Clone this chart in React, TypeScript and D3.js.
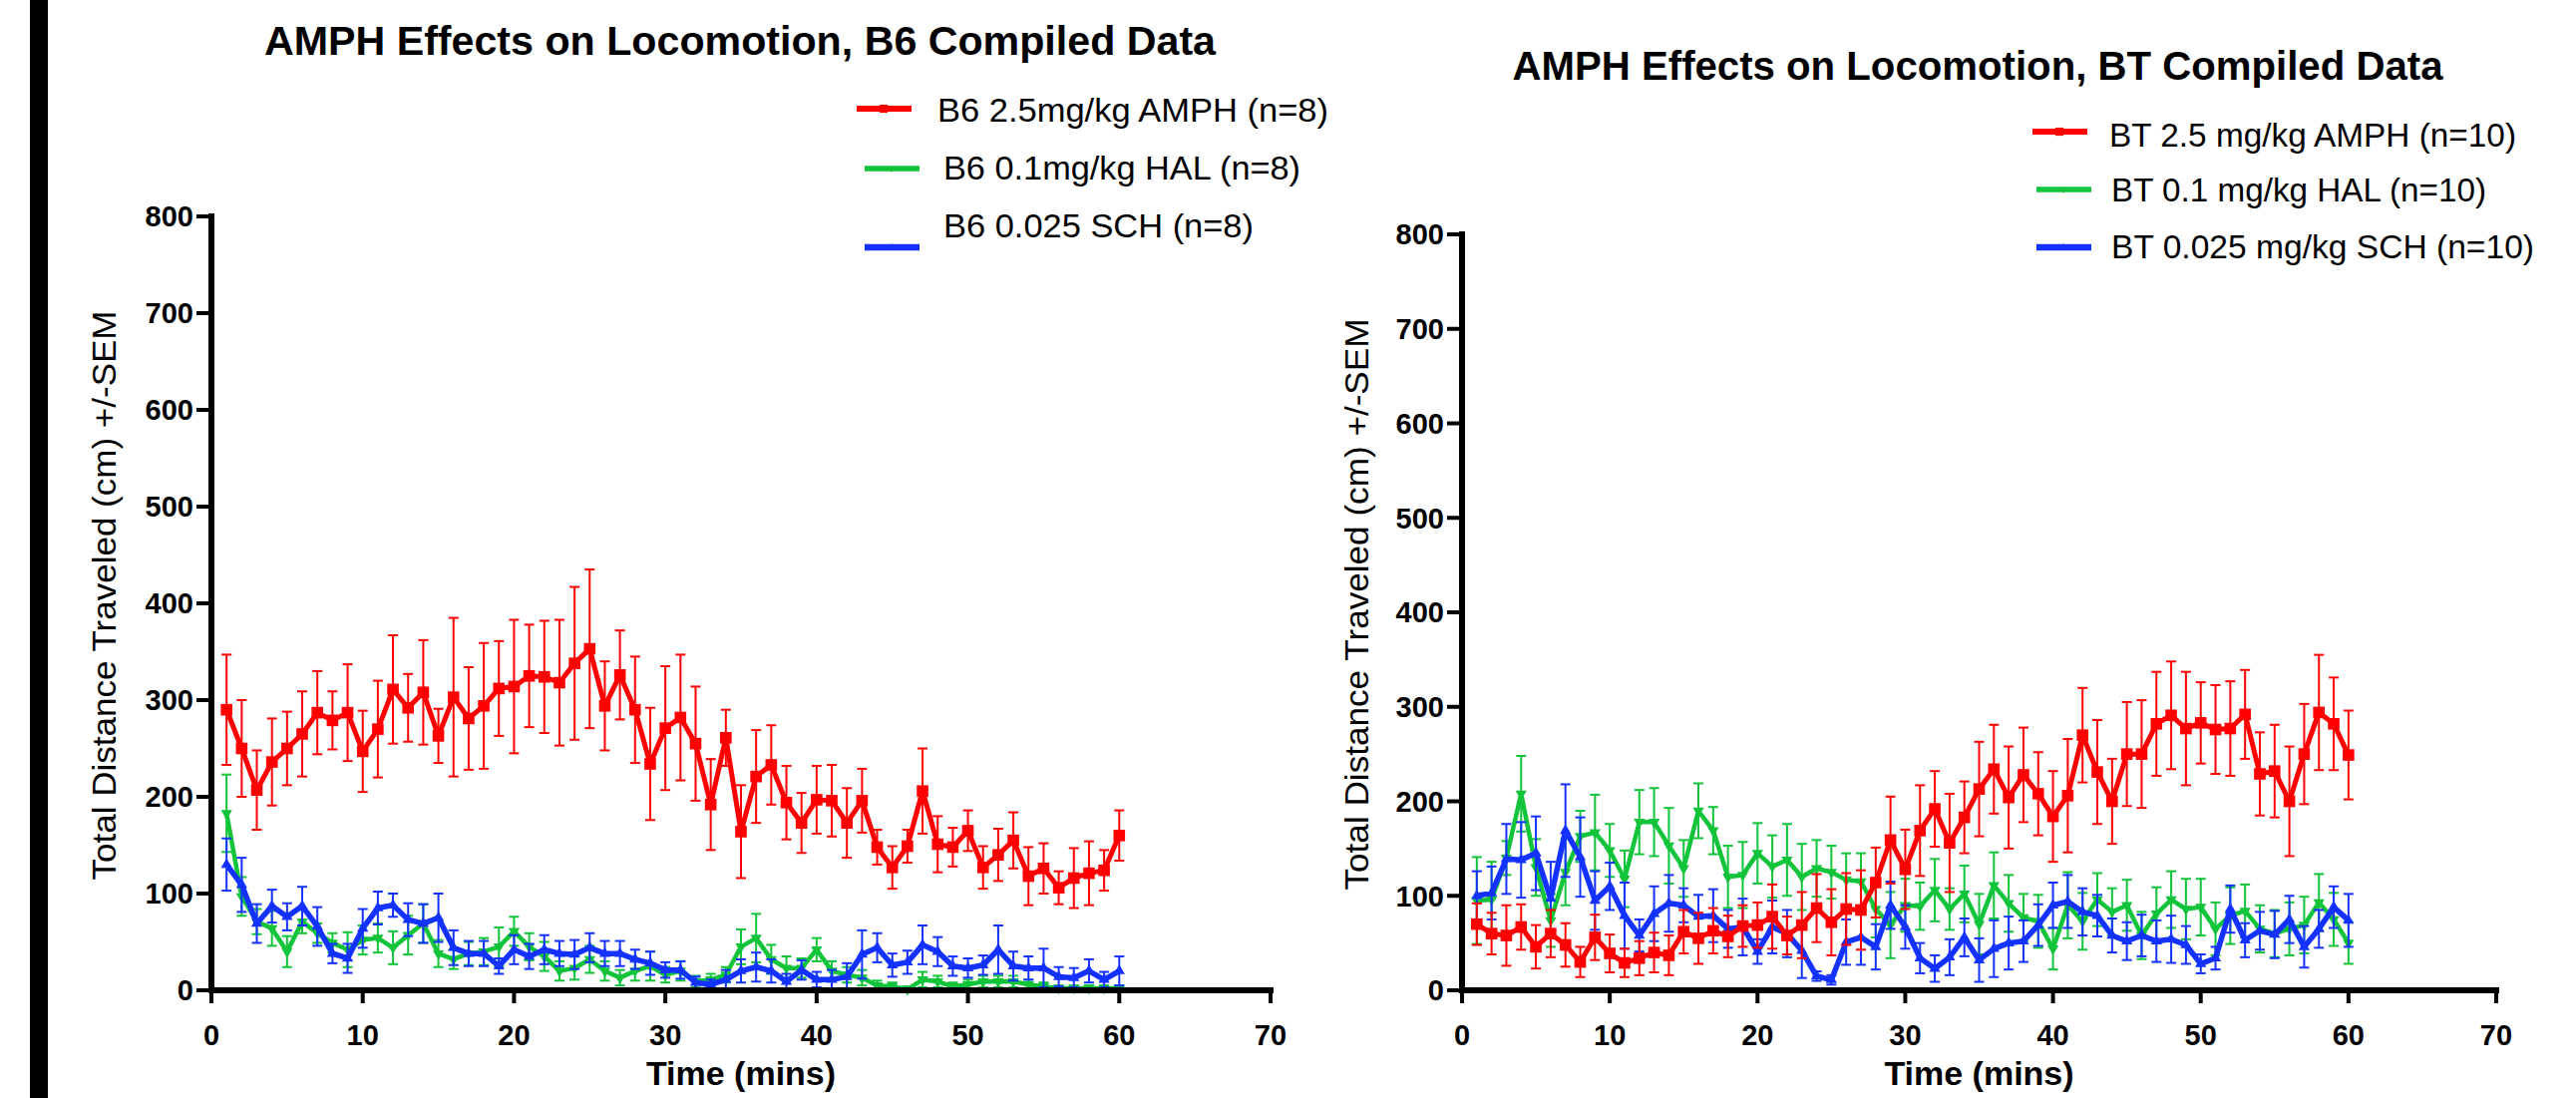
import React from 'react';
import * as d3 from 'd3';

// ---------- DATA ----------
const minutes = [1,2,3,4,5,6,7,8,9,10,11,12,13,14,15,16,17,18,19,20,21,22,23,24,25,26,27,28,29,30,
  31,32,33,34,35,36,37,38,39,40,41,42,43,44,45,46,47,48,49,50,51,52,53,54,55,56,57,58,59,60];

const xTicks = [0, 10, 20, 30, 40, 50, 60, 70];
const yTicks = [0, 100, 200, 300, 400, 500, 600, 700, 800];

// B6 panel
const b6AmphMean = [290,250,207,236,250,265,287,279,287,247,270,311,292,308,263,303,281,294,312,314,325,324,318,338,353,294,326,290,234,271,282,255,192,261,164,221,233,194,173,197,196,173,196,148,127,149,206,151,148,165,127,140,155,118,126,106,116,121,124,160];
const b6AmphSem = [57,50,41,45,38,44,43,30,50,42,50,56,35,54,28,82,53,65,49,69,53,58,65,79,82,46,46,55,58,64,65,59,47,29,48,48,41,38,31,35,37,36,33,18,22,17,44,29,20,21,22,27,29,30,26,17,31,33,21,26];
const b6HalMean = [183,97,71,64,40,71,59,49,42,52,54,44,57,69,38,32,38,40,45,61,45,35,20,23,32,20,13,20,25,16,20,9,11,16,45,54,32,23,23,42,20,16,13,5,4,1,11,9,4,6,9,9,9,6,4,2,2,2,2,2];
const b6HalSem = [40,20,13,18,16,12,10,10,18,15,15,17,20,20,14,10,12,14,20,15,14,15,10,12,14,10,8,10,15,8,10,6,6,8,18,25,15,12,10,12,10,8,8,5,4,3,8,6,4,5,6,6,6,5,4,3,3,3,3,3];
const b6SchMean = [130,109,69,87,76,87,66,38,33,64,85,88,73,69,75,44,38,38,25,42,35,42,38,37,44,38,38,32,28,21,21,8,6,11,20,24,20,9,21,11,11,14,37,44,26,29,47,40,25,23,26,42,25,23,23,14,13,20,11,20];
const b6SchSem = [27,28,20,17,14,20,20,10,15,20,17,12,17,20,25,18,13,13,8,15,13,15,13,15,15,13,13,10,12,8,9,6,5,10,12,15,12,8,10,8,10,14,25,15,12,12,20,15,10,10,10,25,15,12,20,10,10,12,8,15];

// BT panel
const btAmphMean = [70,60,58,67,46,60,48,30,56,39,29,34,40,37,62,55,63,57,68,69,78,58,69,87,72,86,85,114,159,128,169,192,156,183,213,234,204,228,208,184,206,270,231,200,250,250,282,291,277,283,276,277,292,229,232,200,250,294,282,249];
const btAmphSem = [22,22,32,24,23,25,23,16,24,20,15,18,21,21,23,27,24,22,22,24,34,20,35,36,35,38,42,37,46,42,48,40,52,38,50,47,54,50,44,48,60,50,55,45,55,57,55,57,60,43,47,50,47,44,49,58,53,61,49,47];
const btHalMean = [95,96,140,208,130,74,125,163,167,148,118,178,178,153,129,190,169,120,122,145,131,138,120,129,125,117,115,86,69,90,89,106,86,102,70,111,92,77,73,44,90,73,96,83,90,58,81,96,86,88,65,79,84,65,60,65,69,93,75,50];
const btHalSem = [46,40,18,40,30,28,35,27,40,28,30,34,36,40,30,29,25,33,35,32,33,38,35,30,28,28,30,30,35,28,25,33,22,30,32,35,30,25,28,22,35,30,28,25,27,25,28,30,32,30,28,30,28,25,25,28,30,30,28,22];
const btSchMean = [100,103,139,138,145,97,169,141,95,110,79,58,81,92,90,78,79,65,67,41,67,60,42,15,11,51,56,46,90,67,34,23,35,56,32,44,50,52,69,90,94,83,79,58,52,58,52,54,48,28,34,86,53,63,59,75,46,65,88,74];
const btSchSem = [26,28,37,40,39,39,49,42,31,25,35,17,29,30,18,23,28,20,30,13,28,25,29,5,5,24,29,24,25,23,16,14,19,20,23,30,28,22,22,24,28,25,22,18,20,22,22,25,20,10,12,25,18,20,25,25,22,20,22,28];

const b6Labels = ['B6 2.5mg/kg AMPH (n=8)', 'B6 0.1mg/kg HAL (n=8)', 'B6 0.025 SCH (n=8)'];
const btLabels = ['BT 2.5 mg/kg AMPH (n=10)', 'BT 0.1 mg/kg HAL (n=10)', 'BT 0.025 mg/kg SCH (n=10)'];

// ---------- STYLE ----------
const FONT = "'Liberation Sans', Arial, Helvetica, sans-serif";
const RED = '#ff0000';
const GREEN = '#12c43a';
const BLUE = '#1432ff';

type Series = { mean: number[]; sem: number[]; color: string; shape: 'square' | 'down' | 'up'; width: number };

function symbolPath(shape: string) {
  if (shape === 'square') return d3.symbol(d3.symbolSquare, 135)();
  return d3.symbol(d3.symbolTriangle, 55)();
}

function Panel(props: {
  x0: number; x1: number; y0: number; y1: number;
  series: Series[]; title: string; titleX: number; titleY: number; titleLen: number;
  ylabX: number; ylabLen: number;
  legend: { label: string; lx: number; ly: number; tx: number; ty: number; len: number }[];
}) {
  const { x0, x1, y0, y1, series } = props;
  const x = d3.scaleLinear().domain([0, 70]).range([x0, x1]);
  const y = d3.scaleLinear().domain([0, 800]).range([y0, y1]);
  const line = d3.line<number>().x((_, i) => x(minutes[i])).y((d) => y(d));
  const cap = 5;
  const order = [1, 2, 0];
  return (
    <g>
      <text x={props.titleX} y={props.titleY} textAnchor="middle" fontFamily={FONT} fontWeight="bold"
        fontSize={40} textLength={props.titleLen} lengthAdjust="spacingAndGlyphs">{props.title}</text>
      {/* legend */}
      {props.legend.map((l, i) => {
        const s = series[i];
        return (
          <g key={i}>
            <line x1={l.lx} x2={l.lx + 55} y1={l.ly} y2={l.ly} stroke={s.color} strokeWidth={s.width + 1} />
            <path d={symbolPath(s.shape) || ''} transform={`translate(${l.lx + 27},${l.ly}) scale(${s.shape === 'square' ? 0.7 : 0.6})${s.shape === 'down' ? ' rotate(180)' : ''}`} fill={s.color} />
            <text x={l.tx} y={l.ty} fontFamily={FONT} fontSize={34} textLength={l.len} lengthAdjust="spacingAndGlyphs">{l.label}</text>
          </g>
        );
      })}
      {/* y label */}
      <text transform={`translate(${props.ylabX},${(y0 + y1) / 2 - 8}) rotate(-90)`} textAnchor="middle"
        dominantBaseline="central" fontFamily={FONT} fontSize={34} textLength={props.ylabLen}
        lengthAdjust="spacingAndGlyphs">Total Distance Traveled (cm) +/-SEM</text>
      {/* x label */}
      <text x={(x0 + x1) / 2} y={1088} textAnchor="middle" fontFamily={FONT} fontWeight="bold" fontSize={34}>Time (mins)</text>
      {/* data */}
      {order.map((si) => {
        const s = series[si];
        return (
          <g key={si}>
            {s.mean.map((m, i) => {
              const cx = x(minutes[i]);
              const top = y(m + s.sem[i]);
              const bot = y(Math.max(0, m - s.sem[i]));
              return (
                <g key={i} stroke={s.color} strokeWidth={2}>
                  <line x1={cx} x2={cx} y1={top} y2={bot} />
                  <line x1={cx - cap} x2={cx + cap} y1={top} y2={top} />
                  <line x1={cx - cap} x2={cx + cap} y1={bot} y2={bot} />
                </g>
              );
            })}
            <path d={line(s.mean) || ''} fill="none" stroke={s.color} strokeWidth={s.width} strokeLinejoin="round" />
            {s.mean.map((m, i) => (
              <path key={i} d={symbolPath(s.shape) || ''}
                transform={`translate(${x(minutes[i])},${y(m)})${s.shape === 'down' ? ' rotate(180)' : ''}`}
                fill={s.color} />
            ))}
          </g>
        );
      })}
      {/* axes */}
      <line x1={x0} x2={x0} y1={y0 + 3} y2={y1 - 3} stroke="#000" strokeWidth={6} />
      {yTicks.map((t) => (
        <g key={t}>
          <line x1={x0 - 15} x2={x0} y1={y(t)} y2={y(t)} stroke="#000" strokeWidth={4} />
          <text x={x0 - 18} y={y(t)} dy="0.36em" textAnchor="end" fontFamily={FONT} fontWeight="bold" fontSize={29}>{t}</text>
        </g>
      ))}
      <line x1={x0 - 3} x2={x1 + 3} y1={y0} y2={y0} stroke="#000" strokeWidth={6} />
      {xTicks.map((t) => (
        <g key={t}>
          <line x1={x(t)} x2={x(t)} y1={y0} y2={y0 + 13} stroke="#000" strokeWidth={4} />
          <text x={x(t)} y={1048} textAnchor="middle" fontFamily={FONT} fontWeight="bold" fontSize={29}>{t}</text>
        </g>
      ))}
    </g>
  );
}

export default function App() {
  const b6Series: Series[] = [
    { mean: b6AmphMean, sem: b6AmphSem, color: RED, shape: 'square', width: 5 },
    { mean: b6HalMean, sem: b6HalSem, color: GREEN, shape: 'down', width: 4.5 },
    { mean: b6SchMean, sem: b6SchSem, color: BLUE, shape: 'up', width: 5.5 },
  ];
  const btSeries: Series[] = [
    { mean: btAmphMean, sem: btAmphSem, color: RED, shape: 'square', width: 5 },
    { mean: btHalMean, sem: btHalSem, color: GREEN, shape: 'down', width: 4.5 },
    { mean: btSchMean, sem: btSchSem, color: BLUE, shape: 'up', width: 5.5 },
  ];
  return (
    <svg width={2583} height={1101} style={{ position: 'absolute', left: 0, top: 0, background: '#fff' }}>
      <rect x={0} y={0} width={2583} height={1101} fill="#fff" />
      <rect x={30} y={0} width={18} height={1101} fill="#000" />
      <Panel x0={212} x1={1274} y0={993} y1={217} series={b6Series}
        title="AMPH Effects on Locomotion, B6 Compiled Data" titleX={742} titleY={55} titleLen={954}
        ylabX={104} ylabLen={571}
        legend={[
          { label: b6Labels[0], lx: 859, ly: 109, tx: 940, ty: 122, len: 392 },
          { label: b6Labels[1], lx: 867, ly: 169, tx: 946, ty: 180, len: 358 },
          { label: b6Labels[2], lx: 867, ly: 248, tx: 946, ty: 238, len: 311 },
        ]} />
      <Panel x0={1466} x1={2503} y0={993} y1={235} series={btSeries}
        title="AMPH Effects on Locomotion, BT Compiled Data" titleX={1983} titleY={80} titleLen={933}
        ylabX={1360} ylabLen={573}
        legend={[
          { label: btLabels[0], lx: 2038, ly: 132, tx: 2115, ty: 147, len: 408 },
          { label: btLabels[1], lx: 2042, ly: 190, tx: 2117, ty: 202, len: 376 },
          { label: btLabels[2], lx: 2042, ly: 248, tx: 2117, ty: 259, len: 424 },
        ]} />
    </svg>
  );
}
